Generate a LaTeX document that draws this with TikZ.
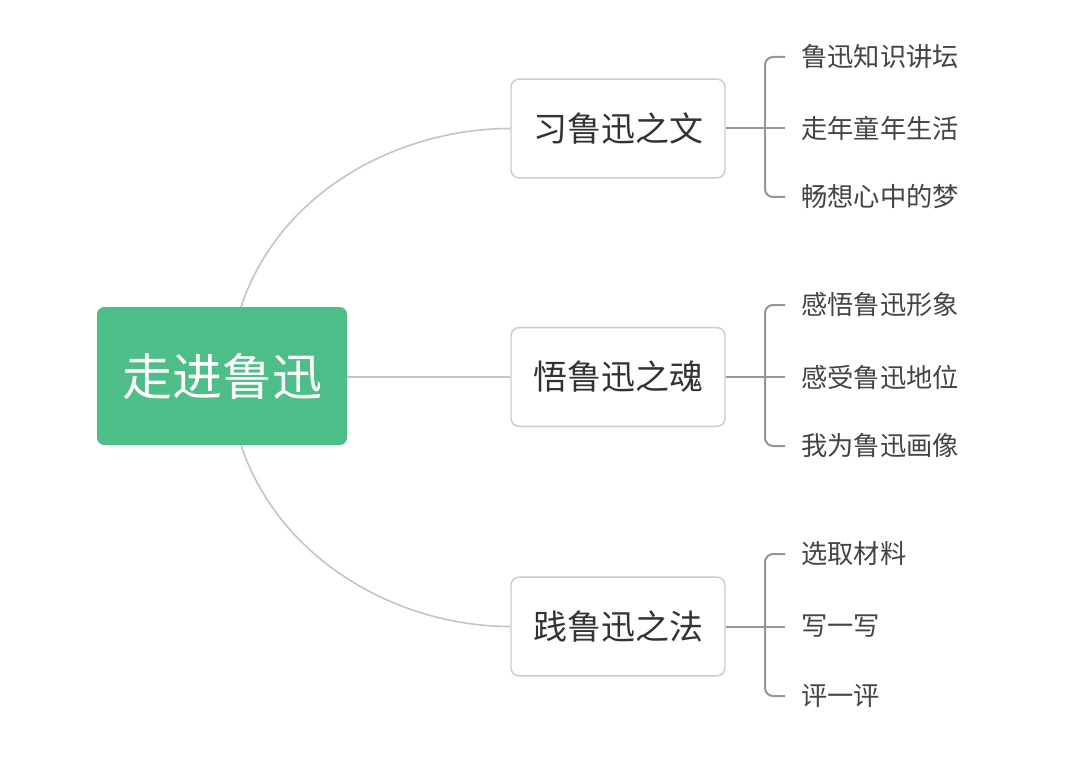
\documentclass[tikz,border=0pt]{standalone}
\usepackage{fontspec}
\setmainfont{Noto Sans CJK SC}
\newfontfamily\cjk{Noto Sans CJK SC}
\definecolor{rootgreen}{RGB}{77,190,135}
\definecolor{boxline}{RGB}{204,204,204}
\definecolor{curveline}{RGB}{196,196,196}
\definecolor{brk}{RGB}{150,150,150}
\definecolor{txt}{RGB}{51,51,51}
\definecolor{leaftxt}{RGB}{68,68,68}
\begin{document}
\begin{tikzpicture}[x=0.75pt,y=-0.75pt,
  rootbox/.style={draw=none,fill=rootgreen,rounded corners=5.5pt,minimum width=187.5pt,minimum height=103.5pt,inner sep=0pt,text=white,font=\cjk\fontsize{37.5}{40}\selectfont},
  midbox/.style={draw=boxline,line width=1.1pt,fill=white,rounded corners=6pt,minimum width=160.5pt,minimum height=74pt,inner sep=0pt,text=txt,font=\cjk\fontsize{25.5}{28}\selectfont},
  leaf/.style={anchor=west,inner sep=0pt,text=leaftxt,font=\cjk\fontsize{19.7}{22}\selectfont},
  curve/.style={draw=curveline,line width=1.2pt},
  bracket/.style={draw=brk,line width=1.5pt,rounded corners=6pt}]
\useasboundingbox (0,0) rectangle (1080,759);
\fill[white] (0,0) rectangle (1080,759);
% root
\node[rootbox] (root) at (222,376) {走进鲁迅};
% mid boxes
\node[midbox] (m1) at (618,128.5) {习鲁迅之文};
\node[midbox] (m2) at (618,377) {悟鲁迅之魂};
\node[midbox] (m3) at (618,626.5) {践鲁迅之法};
% connectors root -> mids
\coordinate (rt) at (241,307);
\coordinate (rb) at (241,445);
\draw[curve] (rt) .. controls (280,190) and (400,128.5) .. (m1.west);
\draw[curve] (root.east |- m2.west) -- (m2.west);
\draw[curve] (rb) .. controls (280,562) and (400,626.5) .. (m3.west);
% leaves
\node[leaf] (a1) at (801,57) {鲁迅知识讲坛};
\node[leaf] (a2) at (801,128.5) {走年童年生活};
\node[leaf] (a3) at (801,197) {畅想心中的梦};
\node[leaf] (b1) at (801,305) {感悟鲁迅形象};
\node[leaf] (b2) at (801,377) {感受鲁迅地位};
\node[leaf] (b3) at (801,446) {我为鲁迅画像};
\node[leaf] (c1) at (801,554) {选取材料};
\node[leaf] (c2) at (801,626.5) {写一写};
\node[leaf] (c3) at (801,696) {评一评};
% brackets
\foreach \m/\t/\mid/\b/\y in {m1/a1/a2/a3/128.5, m2/b1/b2/b3/377, m3/c1/c2/c3/626.5}{
  \draw[bracket] (\m.east) -- (765,\y);
  \draw[bracket] ([xshift=-12pt]\t.west) -| (765,\y) |- ([xshift=-12pt]\b.west);
  \draw[bracket] (765,\y) -- ([xshift=-12pt]\mid.west);
}
\end{tikzpicture}
\end{document}
